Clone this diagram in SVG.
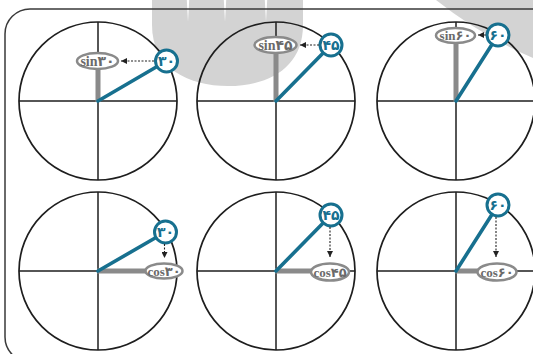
<svg xmlns="http://www.w3.org/2000/svg" width="533" height="354" viewBox="0 0 533 354">
<style>
.wm{fill:#d3d3d3}
.frame{fill:none;stroke:#3a3a3a;stroke-width:1.5}
.circ{fill:none;stroke:#1e1e1e;stroke-width:1.7}
.axis{stroke:#1e1e1e;stroke-width:1.5}
.bar{fill:#8a8a8a}
.ray{stroke:#17708f;stroke-width:3.6;stroke-linecap:round}
.oval{fill:#fff;stroke:#8a8a8a;stroke-width:2.5}
.lbl{font-family:"Liberation Serif","DejaVu Sans",serif;font-weight:bold;font-size:14px;fill:#6a6a6a;text-anchor:middle}
.lbl2{font-family:"Liberation Serif","DejaVu Sans",serif;font-weight:bold;font-size:13px;fill:#6a6a6a;text-anchor:middle}
.badge{fill:#fff;stroke:#17708f;stroke-width:3}
.btxt{font-family:"DejaVu Sans",sans-serif;font-weight:bold;font-size:14px;fill:#17708f;text-anchor:middle}
.dash{stroke:#222;stroke-width:1.1;stroke-dasharray:2 1.5;fill:none}
</style>
<defs>
<marker id="ah" viewBox="0 0 6 6" refX="6" refY="3" markerWidth="6" markerHeight="6" markerUnits="userSpaceOnUse" orient="auto">
<path d="M0,0 L6,3 L0,6 Z" fill="#222"/>
</marker>
</defs>
<g id="watermark">
<path class="wm" d="M152,0 V25 C152,68 188,86 228,86 C268,86 303,68 303,25 V0 Z"/>
<path d="M186.8,0 L189.2,0 L188,22 Z M223.8,0 L226.2,0 L225,22 Z M264.8,0 L267.2,0 L266,22 Z" fill="#fff"/>
<path class="wm" d="M436,0 Q480,35 533,58 L533,0 Z"/>
</g>
<rect class="frame" x="5" y="9" width="560" height="353" rx="25"/>
<g id="sin30">
<circle class="circ" cx="98" cy="101" r="79"/>
<line class="axis" x1="19" y1="101" x2="177" y2="101"/>
<line class="axis" x1="98" y1="22" x2="98" y2="180"/>
<rect class="bar" x="95.5" y="62" width="5" height="40"/>
<line class="ray" x1="98" y1="101" x2="166.5" y2="61"/>
<ellipse class="oval" cx="97.5" cy="61" rx="20.5" ry="8"/>
<text class="lbl" x="97.5" y="65.8">sin۳۰</text>
<circle class="badge" cx="166.5" cy="61" r="11"/>
<text class="btxt" x="166.5" y="65.8">۳۰</text>
</g>
<g id="sin45">
<circle class="circ" cx="276" cy="101" r="79"/>
<line class="axis" x1="197" y1="101" x2="355" y2="101"/>
<line class="axis" x1="276" y1="22" x2="276" y2="180"/>
<rect class="bar" x="273.5" y="46" width="5" height="56"/>
<line class="ray" x1="276" y1="101" x2="331" y2="45"/>
<ellipse class="oval" cx="275.5" cy="45" rx="21" ry="8"/>
<text class="lbl" x="275.5" y="49.8">sin۴۵</text>
<circle class="badge" cx="331" cy="45" r="11"/>
<text class="btxt" x="331" y="49.8">۴۵</text>
</g>
<g id="sin60">
<circle class="circ" cx="456" cy="101" r="79"/>
<line class="axis" x1="377" y1="101" x2="535" y2="101"/>
<line class="axis" x1="456" y1="22" x2="456" y2="180"/>
<rect class="bar" x="453.5" y="36" width="5" height="66"/>
<line class="ray" x1="456" y1="101" x2="498" y2="35"/>
<ellipse class="oval" cx="455.5" cy="35.5" rx="19.5" ry="7.5"/>
<text class="lbl2" x="455.5" y="40">sin۶۰</text>
<circle class="badge" cx="498" cy="35" r="11"/>
<text class="btxt" x="498" y="39.8">۶۰</text>
</g>
<g id="cos30">
<circle class="circ" cx="98" cy="271" r="79"/>
<line class="axis" x1="19" y1="271" x2="177" y2="271"/>
<line class="axis" x1="98" y1="192" x2="98" y2="350"/>
<rect class="bar" x="97" y="268.5" width="68" height="5"/>
<line class="ray" x1="98" y1="271" x2="165.5" y2="232"/>
<ellipse class="oval" cx="164" cy="271" rx="18.5" ry="7.5"/>
<text class="lbl2" x="164" y="275.5">cos۳۰</text>
<circle class="badge" cx="165.5" cy="232" r="11"/>
<text class="btxt" x="165.5" y="236.8">۳۰</text>
</g>
<g id="cos45">
<circle class="circ" cx="276" cy="271" r="79"/>
<line class="axis" x1="197" y1="271" x2="355" y2="271"/>
<line class="axis" x1="276" y1="192" x2="276" y2="350"/>
<rect class="bar" x="275" y="268.5" width="56" height="5"/>
<line class="ray" x1="276" y1="271" x2="331" y2="215"/>
<ellipse class="oval" cx="330" cy="272" rx="19" ry="8.5"/>
<text class="lbl2" x="330" y="276.5">cos۴۵</text>
<circle class="badge" cx="331" cy="215" r="11"/>
<text class="btxt" x="331" y="219.8">۴۵</text>
</g>
<g id="cos60">
<circle class="circ" cx="456" cy="271" r="79"/>
<line class="axis" x1="377" y1="271" x2="535" y2="271"/>
<line class="axis" x1="456" y1="192" x2="456" y2="350"/>
<rect class="bar" x="455" y="268.5" width="42" height="5"/>
<line class="ray" x1="456" y1="271" x2="498" y2="205"/>
<ellipse class="oval" cx="497" cy="272" rx="19.5" ry="8.5"/>
<text class="lbl2" x="497" y="276.5">cos۶۰</text>
<circle class="badge" cx="498" cy="205" r="11"/>
<text class="btxt" x="498" y="209.8">۶۰</text>
</g>
<g id="connectors">
<line class="dash" x1="154" y1="61" x2="121" y2="61" marker-end="url(#ah)"/>
<line class="dash" x1="319" y1="45" x2="300" y2="45" marker-end="url(#ah)"/>
<line class="dash" x1="486" y1="35" x2="478" y2="35" marker-end="url(#ah)"/>
<line class="dash" x1="164.5" y1="244" x2="164.5" y2="258" marker-end="url(#ah)"/>
<line class="dash" x1="330" y1="227" x2="330" y2="257" marker-end="url(#ah)"/>
<line class="dash" x1="496" y1="217" x2="496" y2="257" marker-end="url(#ah)"/>
</g>
</svg>
